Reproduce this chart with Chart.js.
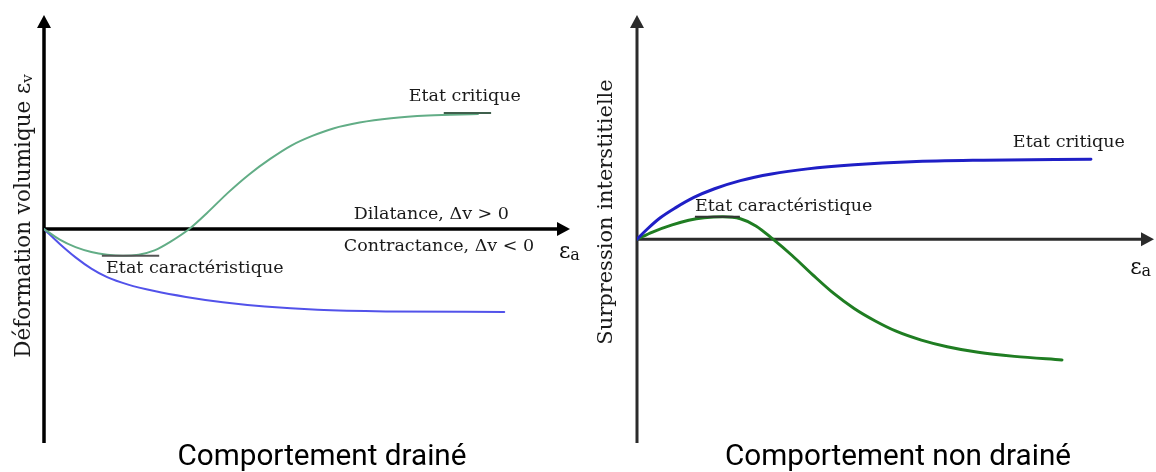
<!DOCTYPE html>
<html lang="fr">
<head>
<meta charset="utf-8">
<script src="https://cdn.jsdelivr.net/npm/chart.js@4.4.1/dist/chart.umd.min.js"></script>
<style>
  html, body { margin: 0; padding: 0; background: #fff; }
  #wrap { position: relative; width: 1156px; height: 472px; overflow: hidden; }
  canvas { position: absolute; top: 0; }
  #drainedChart { left: 0; }
  #undrainedChart { left: 580px; }
</style>
</head>
<body>
<div id="wrap">
  <canvas id="drainedChart" width="580" height="472"></canvas>
  <canvas id="undrainedChart" width="576" height="472"></canvas>
</div>
<script>
// ---------------- Data (arbitrary units) ----------------
// Comportement drainé : déformation volumique vs εa
const drainedDenseX = [0, 0.3, 0.6, 0.9, 1.2, 1.5, 1.8, 2.1, 2.4, 2.76, 3.1, 3.5, 3.9, 4.3, 4.7, 5.1, 5.5, 6.0, 6.6, 7.3, 8.25];
const drainedDenseY = [0, -0.2, -0.34, -0.43, -0.48, -0.5, -0.48, -0.4, -0.24, 0, 0.3, 0.68, 1.02, 1.31, 1.56, 1.74, 1.88, 1.99, 2.07, 2.12, 2.15];
const drainedLooseX = [0, 0.3, 0.6, 0.9, 1.2, 1.6, 2.1, 2.7, 3.4, 4.2, 5.2, 6.5, 8.75];
const drainedLooseY = [0, -0.28, -0.53, -0.74, -0.9, -1.04, -1.16, -1.27, -1.37, -1.45, -1.51, -1.54, -1.55];

// Comportement non drainé : surpression interstitielle vs εa
const undrainedLooseX = [0, 0.2, 0.45, 0.75, 1.1, 1.5, 2.0, 2.6, 3.3, 4.2, 5.3, 6.7, 8.78];
const undrainedLooseY = [0, 0.2, 0.42, 0.62, 0.82, 0.99, 1.15, 1.28, 1.38, 1.46, 1.52, 1.55, 1.57];
const undrainedDenseX = [0, 0.3, 0.68, 1.0, 1.3, 1.66, 2.0, 2.3, 2.63, 3.0, 3.4, 3.8, 4.2, 4.6, 5.0, 5.5, 6.0, 6.6, 7.3, 8.22];
const undrainedDenseY = [0, 0.14, 0.28, 0.37, 0.42, 0.44, 0.4, 0.26, 0, -0.32, -0.7, -1.06, -1.36, -1.6, -1.8, -1.98, -2.11, -2.22, -2.3, -2.37];

const SERIF = "'DejaVu Serif', 'Liberation Serif', serif";
const SANS = "'Liberation Sans Narrow', 'Roboto', 'Liberation Sans', sans-serif";

// ---------------- Helpers ----------------
function toPoints(xs, ys) {
  return xs.map((x, i) => ({ x, y: ys[i] }));
}

function curve(xs, ys, color, width) {
  return {
    data: toPoints(xs, ys),
    showLine: true,
    borderColor: color,
    borderWidth: width,
    borderCapStyle: "round",
    pointRadius: 0,
    cubicInterpolationMode: "monotone",
    fill: false,
  };
}

// text with a small subscript (εv, εa)
function drawSub(ctx, main, sub, x, y, size, align) {
  const small = Math.round(size * 0.72);
  ctx.font = `${size}px ${SERIF}`;
  const w1 = ctx.measureText(main).width;
  ctx.font = `${small}px ${SERIF}`;
  const w2 = ctx.measureText(sub).width;
  let left = x;
  if (align === "center") left = x - (w1 + w2) / 2;
  ctx.textAlign = "left";
  ctx.textBaseline = "middle";
  ctx.font = `${size}px ${SERIF}`;
  ctx.fillText(main, left, y);
  ctx.font = `${small}px ${SERIF}`;
  ctx.fillText(sub, left + w1, y + size * 0.18);
}

// fit a centred line of text into a given width
function fitText(ctx, text, cx, cy, maxW) {
  const w = ctx.measureText(text).width;
  const k = w > maxW ? maxW / w : 1;
  ctx.save();
  ctx.translate(cx, cy);
  ctx.scale(k, 1);
  ctx.textAlign = "center";
  ctx.textBaseline = "middle";
  ctx.fillText(text, 0, 0);
  ctx.restore();
}

// hand-drawn style axes, notes and captions
const sketchPlugin = {
  id: "sketch",
  beforeDatasetsDraw(chart, args, o) {
    const { ctx, chartArea: a, scales: { x, y } } = chart;
    const x0 = x.getPixelForValue(0), y0 = y.getPixelForValue(0);
    const head = 13, half = 7;
    ctx.save();
    ctx.strokeStyle = o.axisColor;
    ctx.fillStyle = o.axisColor;
    ctx.lineWidth = o.axisWidth;
    ctx.beginPath();
    ctx.moveTo(x0, a.bottom);
    ctx.lineTo(x0, a.top + head - 1);
    ctx.moveTo(x0, y0);
    ctx.lineTo(a.right - head + 1, y0);
    ctx.stroke();
    ctx.beginPath();
    ctx.moveTo(x0, a.top);
    ctx.lineTo(x0 - half, a.top + head);
    ctx.lineTo(x0 + half, a.top + head);
    ctx.closePath();
    ctx.fill();
    ctx.beginPath();
    ctx.moveTo(a.right, y0);
    ctx.lineTo(a.right - head, y0 - half);
    ctx.lineTo(a.right - head, y0 + half);
    ctx.closePath();
    ctx.fill();
    ctx.restore();
  },
  afterDatasetsDraw(chart, args, o) {
    const { ctx, scales: { x, y } } = chart;
    ctx.save();

    for (const m of o.marks || []) {
      ctx.strokeStyle = m.color;
      ctx.lineWidth = 2;
      ctx.beginPath();
      ctx.moveTo(x.getPixelForValue(m.x1), y.getPixelForValue(m.y));
      ctx.lineTo(x.getPixelForValue(m.x2), y.getPixelForValue(m.y));
      ctx.stroke();
    }

    ctx.fillStyle = "#1a1a1a";
    ctx.textBaseline = "middle";
    for (const n of o.notes || []) {
      ctx.font = `${o.noteSize}px ${SERIF}`;
      ctx.textAlign = n.align || "left";
      ctx.fillText(n.text, x.getPixelForValue(n.x), y.getPixelForValue(n.y));
    }

    // εa next to the arrow
    ctx.fillStyle = "#111";
    drawSub(ctx, "ε", "a", x.getPixelForValue(o.epsA.x), y.getPixelForValue(o.epsA.y), 22, "left");

    // rotated y label
    ctx.save();
    ctx.translate(o.yLabel.cx, o.yLabel.cy);
    ctx.rotate(-Math.PI / 2);
    ctx.fillStyle = "#1a1a1a";
    if (o.yLabel.sub) drawSub(ctx, o.yLabel.text, o.yLabel.sub, 0, 0, o.yLabel.size, "center");
    else {
      ctx.font = `${o.yLabel.size}px ${SERIF}`;
      ctx.textAlign = "center";
      ctx.textBaseline = "middle";
      ctx.fillText(o.yLabel.text, 0, 0);
    }
    ctx.restore();

    // caption under the panel
    ctx.fillStyle = "#000";
    ctx.font = `30px ${SANS}`;
    fitText(ctx, o.caption.text, o.caption.cx, o.caption.cy, o.caption.w);
    ctx.restore();
  },
};

function makeChart(id, datasets, pad, yMin, yMax, sketch) {
  return new Chart(document.getElementById(id), {
    type: "scatter",
    data: { datasets },
    options: {
      responsive: false,
      animation: false,
      layout: { padding: pad },
      plugins: { legend: { display: false }, tooltip: { enabled: false }, sketch },
      scales: {
        x: { type: "linear", min: 0, max: 10, display: false },
        y: { type: "linear", min: yMin, max: yMax, display: false },
      },
    },
    plugins: [sketchPlugin],
  });
}

// ---------------- Charts ----------------
makeChart(
  "drainedChart",
  [
    curve(drainedDenseX, drainedDenseY, "#62ad86", 2),
    curve(drainedLooseX, drainedLooseY, "#5252ea", 2),
  ],
  { left: 44, right: 10, top: 15, bottom: 29 },
  -4, 4,
  {
    axisColor: "#000",
    axisWidth: 3.5,
    noteSize: 17.5,
    notes: [
      { text: "Etat critique", x: 8.0, y: 2.47, align: "center" },
      { text: "Etat caractéristique", x: 1.18, y: -0.73 },
      { text: "Dilatance, Δv > 0", x: 5.89, y: 0.28 },
      { text: "Contractance, Δv < 0", x: 5.7, y: -0.32 },
    ],
    marks: [
      { x1: 7.6, x2: 8.5, y: 2.17, color: "#3f5f4c" },
      { x1: 1.1, x2: 2.19, y: -0.5, color: "#555" },
    ],
    epsA: { x: 9.79, y: -0.43 },
    yLabel: { text: "Déformation volumique ε", sub: "v", cx: 24, cy: 216, size: 21.5 },
    caption: { text: "Comportement drainé", cx: 322, cy: 457, w: 289 },
  }
);

makeChart(
  "undrainedChart",
  [
    curve(undrainedLooseX, undrainedLooseY, "#1f1fc6", 3),
    curve(undrainedDenseX, undrainedDenseY, "#1f7d22", 3),
  ],
  { left: 57, right: 2, top: 15, bottom: 29 },
  -4, 4.4,
  {
    axisColor: "#2b2b2b",
    axisWidth: 3,
    noteSize: 17.5,
    notes: [
      { text: "Etat critique", x: 7.27, y: 1.89 },
      { text: "Etat caractéristique", x: 1.12, y: 0.65 },
    ],
    marks: [
      { x1: 1.12, x2: 1.99, y: 0.44, color: "#333" },
    ],
    epsA: { x: 9.54, y: -0.57 },
    yLabel: { text: "Surpression interstitielle", cx: 27, cy: 212, size: 21 },
    caption: { text: "Comportement non drainé", cx: 318, cy: 457, w: 346 },
  }
);
</script>
</body>
</html>
